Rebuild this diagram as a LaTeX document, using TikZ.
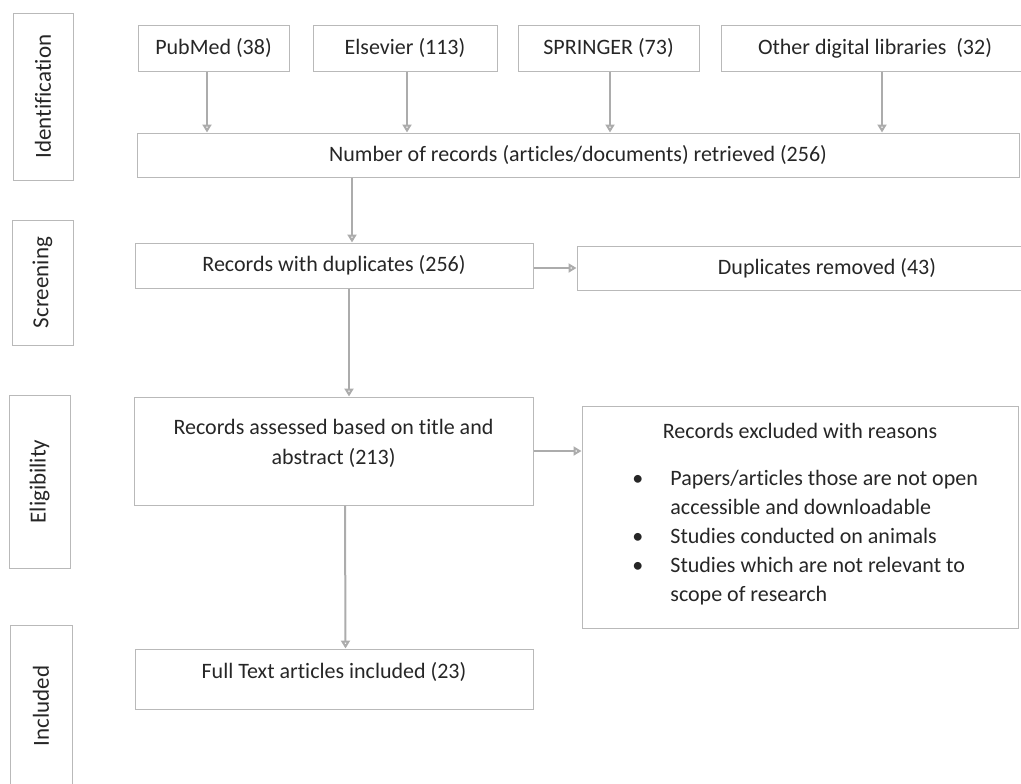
\documentclass[tikz,border=0pt]{standalone}
\usepackage{fontspec}
\setmainfont{Carlito}[Ligatures={NoCommon}]
\usetikzlibrary{arrows.meta}

\tikzset{
  box/.style={draw=gray!55, line width=0.5pt, inner sep=0pt, text=black!85, font=\fontsize{11}{13}\selectfont},
  side/.style={box, rotate=90, font=\fontsize{11.5}{13}\selectfont},
  txt/.style={inner sep=0pt, text=black!85, font=\fontsize{11}{13}\selectfont},
  arr/.style={draw=gray!65, line width=1pt, -{Triangle[open, length=4pt, width=4.5pt]}},
}

\begin{document}
\begin{tikzpicture}[x=0.5pt, y=-0.5pt]
\useasboundingbox (0,0) rectangle (1021,783);
% stage labels on the left
\node[side, minimum width=83.5pt, minimum height=30pt] (ident) at (43,96.5) {Identification};
\node[side, minimum width=62.5pt, minimum height=30.5pt] (screen) at (42.5,282.5) {Screening};
\node[side, minimum width=86.5pt, minimum height=30.5pt] (elig) at (39.5,481.5) {Eligibility};
\node[side, minimum width=81pt, minimum height=31pt] (incl) at (41,706) {Included};
% sources
\node[box, minimum width=75.5pt, minimum height=23pt] (pubmed) at (213.5,48) {PubMed (38)};
\node[box, minimum width=92pt, minimum height=23pt] (elsevier) at (405,48) {Elsevier (113)};
\node[box, minimum width=90.5pt, minimum height=23pt] (springer) at (608.5,48) {SPRINGER (73)};
\node[box, minimum width=154pt, minimum height=23pt] (other) at (875,48) {Other digital libraries~~(32)};
% records retrieved
\node[box, minimum width=441pt, minimum height=22pt] (total) at (578,155) {Number of records (articles/documents) retrieved (256)};
% screening
\node[box, minimum width=199pt, minimum height=22.5pt] (dup) at (334,265.5) {Records with duplicates (256)};
\node[box, minimum width=250pt, minimum height=22pt] (removed) at (827,268) {Duplicates removed (43)};
% eligibility
\node[box, minimum width=199.5pt, minimum height=54pt] (assessed) at (333.5,451) {};
\node[txt, align=center] (assessedtxt) at (333.5,443.5) {Records assessed based on title and\\[2pt]abstract (213)};
\node[box, minimum width=218pt, minimum height=111pt] (excluded) at (800,517) {};
\node[txt] (excltitle) at (800,431) {Records excluded with reasons};
\node[txt, anchor=north west, font=\fontsize{11}{14.5}\selectfont] (excllist) at (632,465) {%
  \begin{tabular}{@{}p{19pt}@{}l@{}}
  \textbullet & Papers/articles those are not open\\
   & accessible and downloadable\\
  \textbullet & Studies conducted on animals\\
  \textbullet & Studies which are not relevant to\\
   & scope of research
  \end{tabular}};
% included
\node[box, minimum width=199pt, minimum height=30pt] (full) at (334,679) {};
\node[txt] (fulltxt) at (334,672) {Full Text articles included (23)};
% arrows
\draw[arr] ([xshift=-3.25pt]pubmed.south) -- ([xshift=-3.25pt]pubmed.south |- total.north);
\draw[arr] ([xshift=1pt]elsevier.south) -- ([xshift=1pt]elsevier.south |- total.north);
\draw[arr] ([xshift=0.75pt]springer.south) -- ([xshift=0.75pt]springer.south |- total.north);
\draw[arr] ([xshift=3.5pt]other.south) -- ([xshift=3.5pt]other.south |- total.north);
\draw[arr] ([xshift=9pt]dup.north |- total.south) -- ([xshift=9pt]dup.north);
\draw[arr] (dup.east |- removed.west) -- (removed.west);
\draw[arr] ([xshift=7.75pt]assessed.north |- dup.south) -- ([xshift=7.75pt]assessed.north);
\draw[arr] (assessed.east) -- (assessed.east -| excluded.west);
\draw[arr] ([xshift=5.75pt]assessed.south) -- ([xshift=5.75pt]full.north);
\end{tikzpicture}
\end{document}
